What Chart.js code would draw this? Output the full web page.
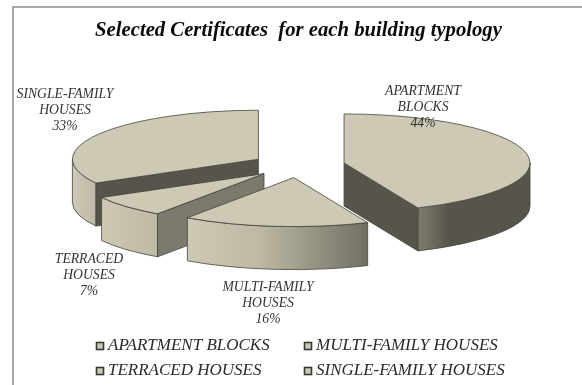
<!DOCTYPE html>
<html>
<head>
<meta charset="utf-8">
<style>
  body { margin: 0; background: #fff; }
  #wrap { position: relative; width: 582px; height: 385px; overflow: hidden; }
  #frame { position: absolute; left: 12px; top: 6px; width: 600px; height: 400px; border: 2px solid #a6a6a6; }
  canvas { position: absolute; left: 0; top: 0; }
</style>
<script src="https://cdn.jsdelivr.net/npm/chart.js@4"></script>
</head>
<body>
<div id="wrap">
  <div id="frame"></div>
  <canvas id="myChart" width="582" height="385"></canvas>
</div>
<script>
const categories = ['APARTMENT BLOCKS', 'MULTI-FAMILY HOUSES', 'TERRACED HOUSES', 'SINGLE-FAMILY HOUSES'];
const values = [43.5, 16.2, 7.2, 33.1];
const labelLines = [['APARTMENT', 'BLOCKS'], ['MULTI-FAMILY', 'HOUSES'], ['TERRACED', 'HOUSES'], ['SINGLE-FAMILY', 'HOUSES']];

// look of the fake 3d pie
const radius = 186;
const squash = 49 / 186;
const depth = 43;
const explode = 0.25;
const drawOrder = [3, 0, 2, 1];
const topColor = '#cdc9b4';
const lineColor = '#45443c';
const cutColors = ['#57544b', null, '#7c7a6c', '#57544b'];
const rimStops = [
  [[0, '#7f7d6f'], [0.28, '#57544b'], [1, '#57544b']],
  [[0, '#cdc9b4'], [0.4, '#bdb9a4'], [1, '#716f63']],
  [[0, '#cdc9b4'], [1, '#bdb9a4']],
  [[0, '#cdc9b4'], [1, '#bdb9a4']]
];
const labelAnchors = [[423, 91], [268, 287], [89, 259], [65, 94]];
const legendSpots = [[100, 346], [308, 346], [100, 371], [308, 371]];

const pie3d = {
  id: 'pie3d',
  beforeDatasetDraw(chart) {
    const ctx = chart.ctx;
    const arcs = chart.getDatasetMeta(0).data;
    ctx.lineWidth = 0.8;
    ctx.strokeStyle = lineColor;
    drawOrder.forEach(i => {
      const arc = arcs[i];
      const s = arc.startAngle, e = arc.endAngle, R = arc.outerRadius;
      const mid = (s + e) / 2;
      const cx = arc.x + Math.cos(mid) * R * explode;
      const cy = arc.y + Math.sin(mid) * R * explode * squash;

      // rim, only the part facing the viewer
      const a0 = Math.max(s, 0), a1 = Math.min(e, Math.PI);
      if (a1 > a0) {
        const xa = cx + Math.cos(a0) * R, xb = cx + Math.cos(a1) * R;
        const grad = ctx.createLinearGradient(Math.min(xa, xb), 0, Math.max(xa, xb), 0);
        rimStops[i].forEach(st => grad.addColorStop(st[0], st[1]));
        ctx.beginPath();
        ctx.ellipse(cx, cy, R, R * squash, 0, a0, a1);
        ctx.ellipse(cx, cy + depth, R, R * squash, 0, a1, a0, true);
        ctx.closePath();
        ctx.fillStyle = grad;
        ctx.fill();
        ctx.stroke();
      }

      // straight cut faces
      [[s, -Math.cos(s)], [e, Math.cos(e)]].forEach(face => {
        if (face[1] <= 0.001 || !cutColors[i]) return;
        const rx = cx + Math.cos(face[0]) * R;
        const ry = cy + Math.sin(face[0]) * R * squash;
        ctx.beginPath();
        ctx.moveTo(cx, cy);
        ctx.lineTo(rx, ry);
        ctx.lineTo(rx, ry + depth);
        ctx.lineTo(cx, cy + depth);
        ctx.closePath();
        ctx.fillStyle = cutColors[i];
        ctx.fill();
        ctx.stroke();
      });

      // top face is the chart's own arc, squashed
      ctx.save();
      ctx.translate(cx, cy);
      ctx.scale(1, squash);
      ctx.translate(-arc.x, -arc.y);
      arc.draw(ctx);
      ctx.restore();
      ctx.beginPath();
      ctx.moveTo(cx, cy);
      ctx.ellipse(cx, cy, R, R * squash, 0, s, e);
      ctx.closePath();
      ctx.stroke();
    });
    return false;
  },
  afterDraw(chart) {
    const ctx = chart.ctx;
    ctx.save();
    ctx.fillStyle = '#333';
    ctx.textBaseline = 'middle';

    // slice labels
    ctx.font = 'italic 13.7px "Liberation Serif"';
    ctx.textAlign = 'center';
    categories.forEach((c, i) => {
      const lines = labelLines[i].concat([Math.round(values[i]) + '%']);
      lines.forEach((t, n) => ctx.fillText(t, labelAnchors[i][0], labelAnchors[i][1] + n * 16.3));
    });

    // legend in two fixed columns
    ctx.font = 'italic 17px "Liberation Serif"';
    ctx.textAlign = 'left';
    categories.forEach((c, i) => {
      const [x, y] = legendSpots[i];
      ctx.fillStyle = topColor;
      ctx.strokeStyle = '#3a3a34';
      ctx.lineWidth = 1.6;
      ctx.fillRect(x - 3.5, y - 3.5, 7, 7);
      ctx.strokeRect(x - 3.5, y - 3.5, 7, 7);
      ctx.fillStyle = '#2a2a2a';
      ctx.fillText(c, x + 8, y);
    });
    ctx.restore();
  }
};

const ctx = document.getElementById('myChart');
const chart = new Chart(ctx, {
  type: 'pie',
  data: {
    labels: categories,
    datasets: [{
      data: values,
      backgroundColor: topColor,
      borderWidth: 0
    }]
  },
  options: {
    responsive: false,
    animation: false,
    radius: radius,
    layout: { padding: { left: 15, bottom: 108 } },
    plugins: {
      legend: { display: false },
      tooltip: { enabled: false },
      title: {
        display: true,
        text: 'Selected Certificates  for each building typology',
        color: '#0a0a0a',
        font: { family: '"Liberation Serif"', size: 20.7, style: 'italic', weight: 'bold' },
        padding: { top: 18, bottom: 11 }
      }
    }
  },
  plugins: [pie3d]
});
</script>
</body>
</html>
